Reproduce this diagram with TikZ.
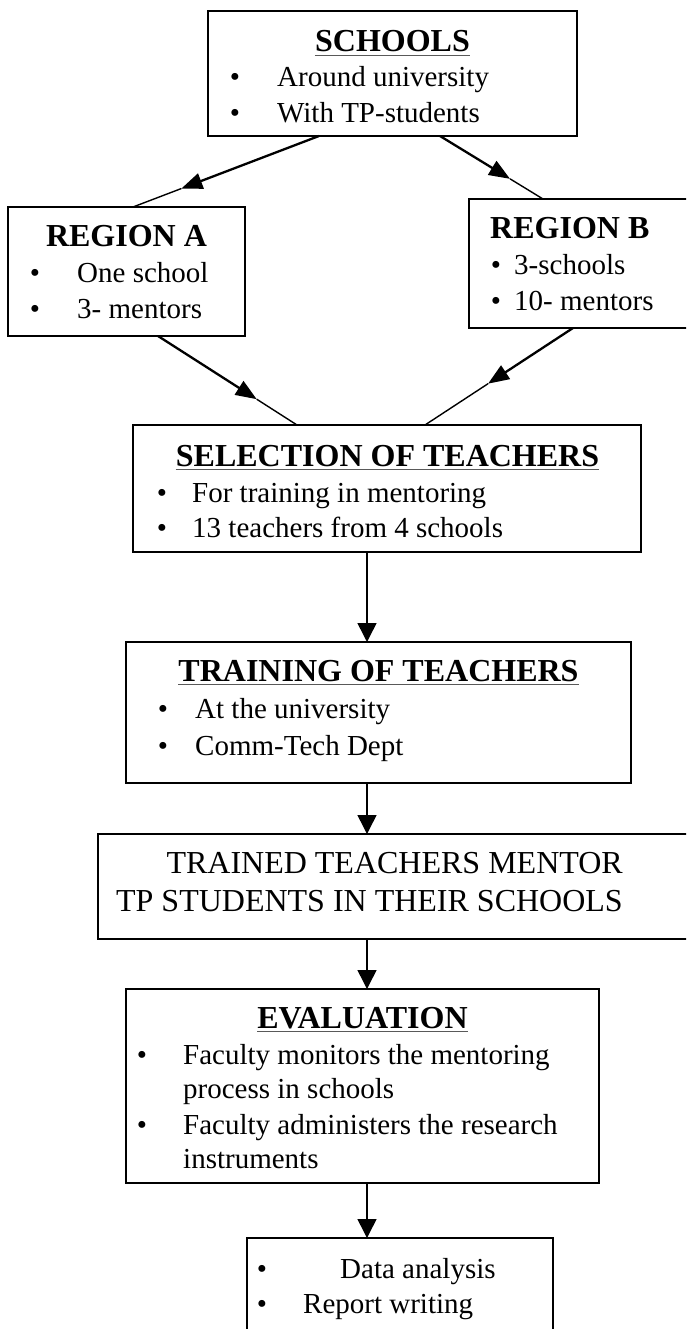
\documentclass[tikz,border=0pt]{standalone}
\usepackage{fontspec}
\setmainfont{Liberation Serif}
\usetikzlibrary{arrows.meta,calc}
\newcommand\myBody{\fontsize{29}{35}\selectfont}
\newcommand\myTitle{\fontsize{32}{38}\selectfont\bfseries}
\begin{document}
\begin{tikzpicture}[x=1pt,y=-1pt,
  box/.style={draw, line width=1.8pt, inner sep=0pt, outer sep=0pt, anchor=north west},
  ttl/.style={font=\myTitle, inner sep=0pt, anchor=base},
  ttlw/.style={font=\myTitle, inner sep=0pt, anchor=base west},
  txt/.style={font=\myBody, inner sep=0pt, anchor=base west},
  txte/.style={font=\myBody, inner sep=0pt, anchor=base east},
  bul/.style={font=\myBody, inner sep=0pt, anchor=base},
  uline/.style={draw=black!65, line width=1.1pt},
  arr/.style={line width=1.5pt, -{Triangle[length=19pt,width=19pt]}},
  heavyarr/.style={line width=2.3pt, -{Triangle[length=21pt,width=16pt]}},
  thinline/.style={line width=1.4pt}]
\useasboundingbox (0,0) rectangle (686,1329);
\clip (0,0) rectangle (686,1329);

% boxes
\node[box, minimum width=369pt, minimum height=125pt] (schools) at (208,11) {};
\node[box, minimum width=237pt, minimum height=129pt] (regA) at (8,207) {};
\node[box, minimum width=240pt, minimum height=129pt] (regB) at (469,199) {};
\node[box, minimum width=508pt, minimum height=127pt] (selection) at (133,425) {};
\node[box, minimum width=505pt, minimum height=141pt] (training) at (126,642) {};
\node[box, minimum width=610pt, minimum height=105pt] (trained) at (98,834) {};
\node[box, minimum width=473pt, minimum height=194pt] (evaluation) at (126,989) {};
\node[box, minimum width=306pt, minimum height=120pt] (final) at (247,1238) {};

% SCHOOLS
\node[ttl] (tSch) at (392.5,52) {SCHOOLS};
\draw[uline] ([yshift=-3.5pt]tSch.base west) -- ([yshift=-3.5pt]tSch.base east);
\node[bul] (bSch1) at (235,87) {\textbullet};
\node[txt] (lSch1) at (277,87) {Around university};
\node[bul] (bSch2) at (235,123) {\textbullet};
\node[txt] (lSch2) at (277,123) {With TP-students};

% REGION A
\node[ttl] (tRA) at (126.5,247) {REGION A};
\node[bul] (bRA1) at (35,283) {\textbullet};
\node[txt] (lRA1) at (77,283) {One school};
\node[bul] (bRA2) at (35,319) {\textbullet};
\node[txt] (lRA2) at (77,319) {3- mentors};

% REGION B
\node[ttlw] (tRB) at (490,239) {REGION B};
\node[bul] (bRB1) at (496,275) {\textbullet};
\node[txt] (lRB1) at (514,275) {3-schools};
\node[bul] (bRB2) at (496,310) {\textbullet};
\node[txt] (lRB2) at (514,310) {10- mentors};

% SELECTION OF TEACHERS
\node[ttl] (tSel) at (387.5,466) {SELECTION OF TEACHERS};
\draw[uline] ([yshift=-3.5pt]tSel.base west) -- ([yshift=-3.5pt]tSel.base east);
\node[bul] (bSel1) at (162,502) {\textbullet};
\node[txt] (lSel1) at (192,502) {For training in mentoring};
\node[bul] (bSel2) at (162,537) {\textbullet};
\node[txt] (lSel2) at (192,537) {13 teachers from 4 schools};

% TRAINING OF TEACHERS
\node[ttl] (tTr) at (378.5,681) {TRAINING OF TEACHERS};
\draw[uline] ([yshift=-3.5pt]tTr.base west) -- ([yshift=-3.5pt]tTr.base east);
\node[bul] (bTr1) at (163,718) {\textbullet};
\node[txt] (lTr1) at (195,718) {At the university};
\node[bul] (bTr2) at (163,755) {\textbullet};
\node[txt] (lTr2) at (195,755) {Comm-Tech Dept};

% TRAINED TEACHERS
\node[txte, font=\fontsize{32}{38}\selectfont] (lTd1) at (623,873) {TRAINED TEACHERS MENTOR};
\node[txte, font=\fontsize{32}{38}\selectfont] (lTd2) at (623,911) {TP STUDENTS IN THEIR SCHOOLS};

% EVALUATION
\node[ttl] (tEv) at (362.5,1028) {EVALUATION};
\draw[uline] ([yshift=-3.5pt]tEv.base west) -- ([yshift=-3.5pt]tEv.base east);
\node[bul] (bEv1) at (142,1064) {\textbullet};
\node[txt] (lEv1) at (183,1064) {Faculty monitors the mentoring};
\node[txt] (lEv2) at (183,1098) {process in schools};
\node[bul] (bEv2) at (142,1134) {\textbullet};
\node[txt] (lEv3) at (183,1134) {Faculty administers the research};
\node[txt] (lEv4) at (183,1168) {instruments};

% final box
\node[bul] (bFi1) at (262,1278) {\textbullet};
\node[txt] (lFi1) at (340,1278) {Data analysis};
\node[bul] (bFi2) at (262,1313) {\textbullet};
\node[txt] (lFi2) at (303,1313) {Report writing};

% diagonal connectors, arrowhead part way along each
\coordinate (sa0) at ([xshift=111pt]schools.south west);
\coordinate (sa1) at ([xshift=125pt]regA.north west);
\coordinate (sam) at ($(sa0)!0.74!(sa1)$);
\draw[heavyarr] (sa0) -- (sam);
\draw[thinline] (sam) -- (sa1);

\coordinate (sb0) at ([xshift=232pt]schools.south west);
\coordinate (sb1) at ([xshift=74pt]regB.north west);
\coordinate (sbm) at ($(sb0)!0.68!(sb1)$);
\draw[heavyarr] (sb0) -- (sbm);
\draw[thinline] (sbm) -- (sb1);

\coordinate (as0) at ([xshift=150pt]regA.south west);
\coordinate (as1) at ([xshift=164pt]selection.north west);
\coordinate (asm) at ($(as0)!0.71!(as1)$);
\draw[heavyarr] (as0) -- (asm);
\draw[thinline] (asm) -- (as1);

\coordinate (bs0) at ([xshift=104pt]regB.south west);
\coordinate (bs1) at ([xshift=292pt]selection.north west);
\coordinate (bsm) at ($(bs0)!0.574!(bs1)$);
\draw[heavyarr] (bs0) -- (bsm);
\draw[thinline] (bsm) -- (bs1);

% vertical connectors
\coordinate (xline) at (367,0);
\draw[arr] (selection.south -| xline) -- (training.north -| xline);
\draw[arr] (training.south -| xline) -- (trained.north -| xline);
\draw[arr] (trained.south -| xline) -- (evaluation.north -| xline);
\draw[arr] (evaluation.south -| xline) -- (final.north -| xline);
\end{tikzpicture}
\end{document}
